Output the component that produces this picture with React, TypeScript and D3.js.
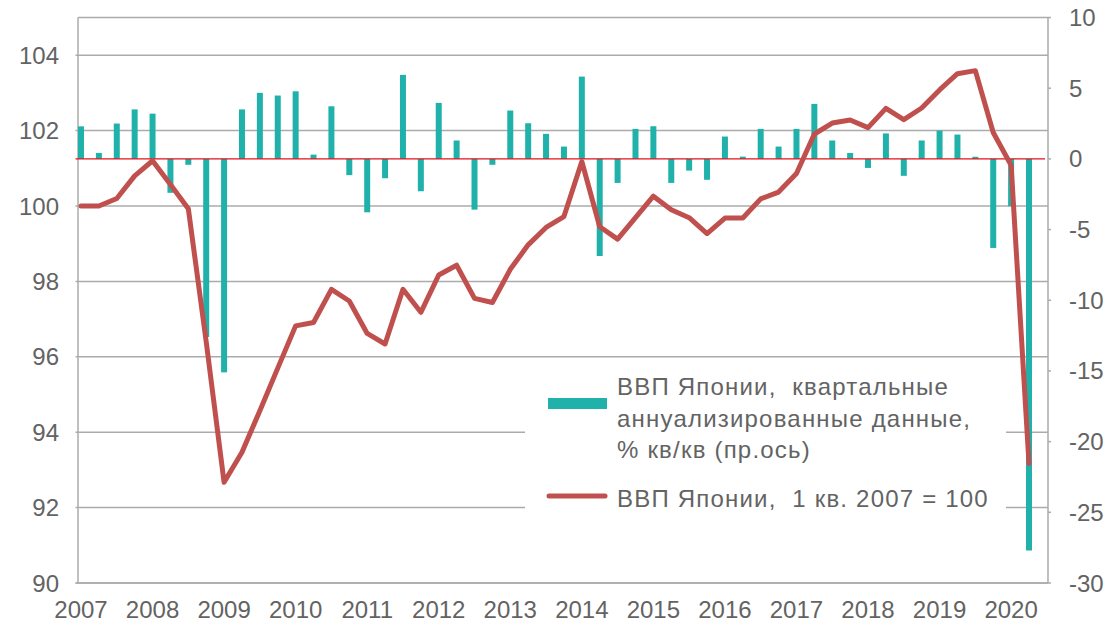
import React from 'react';
import * as d3 from 'd3';

// Quarterly data, 2007 Q1 … 2020 Q2
const years = [2007, 2008, 2009, 2010, 2011, 2012, 2013, 2014, 2015, 2016, 2017, 2018, 2019, 2020];

// Japan GDP, quarterly annualized, % q/q (right axis)
const qoqAnnualized = [
  2.3, 0.42, 2.5, 3.5, 3.2, -2.4, -0.42, -12.6, -15.1,
  3.5, 4.67, 4.48, 4.78, 0.3, 3.72, -1.15, -3.78, -1.37,
  5.94, -2.29, 3.96, 1.3, -3.59, -0.42, 3.42, 2.52, 1.77,
  0.87, 5.82, -6.87, -1.7, 2.12, 2.31, -1.7, -0.83, -1.48,
  1.58, 0.16, 2.12, 0.87, 2.12, 3.89, 1.3, 0.42, -0.64,
  1.8, -1.2, 1.3, 2.0, 1.72, 0.15, -6.3, -3.35, -27.7,
];

// Japan GDP index, 2007 Q1 = 100 (left axis)
const gdpIndex = [
  100.0, 100.0, 100.2, 100.8, 101.2, 100.57, 99.93, 96.4, 92.67,
  93.47, 94.57, 95.7, 96.82, 96.91, 97.79, 97.48, 96.62, 96.34,
  97.79, 97.18, 98.17, 98.43, 97.55, 97.44, 98.32, 98.97, 99.43,
  99.72, 101.18, 99.45, 99.12, 99.69, 100.26, 99.9, 99.69, 99.27,
  99.68, 99.68, 100.19, 100.37, 100.86, 101.91, 102.2, 102.28, 102.08,
  102.59, 102.29, 102.6, 103.08, 103.51, 103.59, 101.95, 101.08, 93.17,
];

const leftTicks = [90, 92, 94, 96, 98, 100, 102, 104];
const rightTicks = [-30, -25, -20, -15, -10, -5, 0, 5, 10];

const legendBarText = ['ВВП Японии,  квартальные', 'аннуализированные данные,', '% кв/кв (пр.ось)'];
const legendLineText = 'ВВП Японии,  1 кв. 2007 = 100';

const TEAL = '#20b2aa';
const RED = '#c0504d';
const GRID = '#ababab';
const TEXT = '#636363';
const FONT = '"Liberation Sans", Arial, sans-serif';

export default function App() {
  const W = 1106;
  const H = 625;
  const L = 78;
  const R = 1048;
  const T = 17.5;
  const B = 583;

  const n = qoqAnnualized.length;
  const x = d3.scaleLinear().domain([0, n - 1]).range([81, 1029]);
  const yL = d3.scaleLinear().domain([90, 105]).range([B, T]);
  const yR = d3.scaleLinear().domain([-30, 10]).range([B, T]);

  const linePath = d3
    .line<number>()
    .x((_, i) => x(i))
    .y((d) => yL(d))(gdpIndex) || '';

  const barW = 6;

  const legend = { x0: 525, x1: 1006, y0: 362, y1: 522 };

  return (
    <svg
      width={W}
      height={H}
      style={{ position: 'absolute', left: 0, top: 0, background: '#fff' }}
      fontFamily={FONT}
    >
      {/* gridlines (left axis) */}
      {leftTicks.map((t) => (
        <line key={'g' + t} x1={L - 2.5} x2={R} y1={yL(t)} y2={yL(t)} stroke={GRID} strokeWidth={1.5} />
      ))}
      {/* plot border top */}
      <line x1={L} x2={R} y1={T} y2={T} stroke={GRID} strokeWidth={1.5} />
      {/* axes */}
      <line x1={L} x2={L} y1={T} y2={B} stroke={GRID} strokeWidth={1.5} />
      <line x1={R} x2={R} y1={T} y2={B} stroke={GRID} strokeWidth={1.5} />
      {rightTicks.map((t) => (
        <line key={'rt' + t} x1={R} x2={R + 3} y1={yR(t)} y2={yR(t)} stroke={GRID} strokeWidth={1.5} />
      ))}

      {/* legend background hides gridlines */}
      <rect x={legend.x0} y={legend.y0} width={legend.x1 - legend.x0} height={legend.y1 - legend.y0} fill="#fff" />

      {/* bars */}
      {qoqAnnualized.map((v, i) => (
        <rect
          key={'b' + i}
          x={x(i) - barW / 2}
          y={Math.min(yR(v), yR(0))}
          width={barW}
          height={Math.abs(yR(v) - yR(0))}
          fill={TEAL}
        />
      ))}

      {/* zero line of right axis */}
      <line x1={L - 2.5} x2={R - 3} y1={yR(0)} y2={yR(0)} stroke="#e3101a" strokeWidth={1.4} />

      {/* GDP index line */}
      <path d={linePath} fill="none" stroke={RED} strokeWidth={5} strokeLinejoin="round" strokeLinecap="round" />

      {/* left axis labels */}
      {leftTicks.map((t) => (
        <text key={'ll' + t} x={59} y={yL(t) + 8.5} textAnchor="end" fontSize={24} fill={TEXT}>
          {t}
        </text>
      ))}
      {/* right axis labels */}
      {rightTicks.map((t) => (
        <text key={'rl' + t} x={1069} y={yR(t) + 8.5} textAnchor="start" fontSize={24} fill={TEXT}>
          {t}
        </text>
      ))}
      {/* x axis labels */}
      {years.map((yr, k) => (
        <text key={'x' + yr} x={x(k * 4)} y={618} textAnchor="middle" fontSize={24} fill={TEXT}>
          {yr}
        </text>
      ))}
      <line x1={L - 2.5} x2={R} y1={B} y2={B} stroke={GRID} strokeWidth={1.5} />

      {/* legend */}
      <rect x={548} y={398} width={59} height={11} fill={TEAL} />
      {legendBarText.map((s, k) => (
        <text
          key={'lt' + k}
          x={617}
          y={395 + k * 31.5}
          fontSize={24}
          fill={TEXT}
          letterSpacing={1.2}
          style={{ whiteSpace: 'pre' }}
        >
          {s}
        </text>
      ))}
      <line x1={549} x2={605} y1={496} y2={496} stroke={RED} strokeWidth={5} strokeLinecap="round" />
      <text x={617} y={506.5} fontSize={24} fill={TEXT} letterSpacing={1.2} style={{ whiteSpace: 'pre' }}>
        {legendLineText}
      </text>
    </svg>
  );
}
